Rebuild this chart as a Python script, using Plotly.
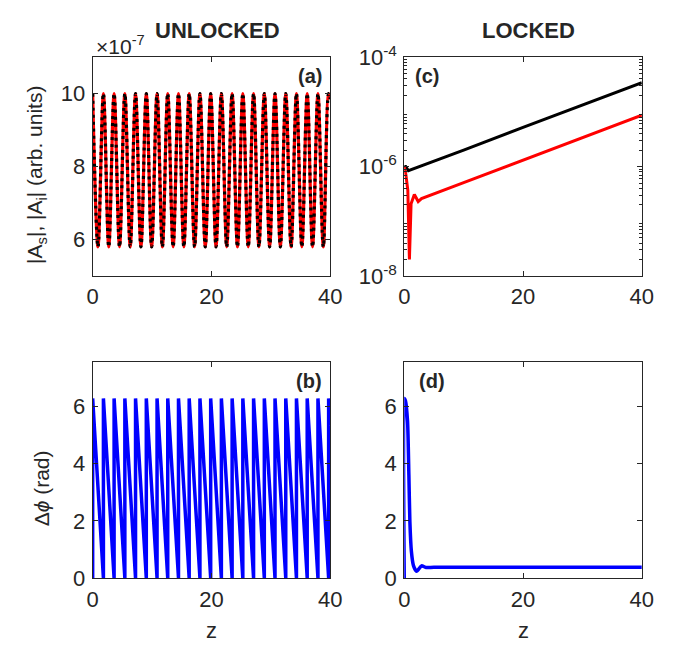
import plotly.graph_objects as go

# ---------------- data ----------------
# (a) unlocked amplitudes |As| = |Ai| : peak / trough positions
peak_z = [0.0, 1.81, 3.61, 5.42, 7.22, 9.03, 10.84, 12.64, 14.45, 16.25, 18.06,
          19.87, 21.67, 23.48, 25.28, 27.09, 28.90, 30.70, 32.51, 34.31, 36.12,
          37.93, 39.73]
trough_z = [0.90, 2.71, 4.52, 6.32, 8.13, 9.93, 11.74, 13.55, 15.35, 17.16,
            18.96, 20.77, 22.57, 24.38, 26.19, 27.99, 29.80, 31.60, 33.41,
            35.22, 37.02, 38.83]
amp_peak = 1.0e-6
amp_trough = 5.8e-7
amp_end_z = 40.0
amp_end = 9.85e-7

# (b) unlocked phase difference: sawtooth jump positions
jump_z = [1.81, 3.61, 5.42, 7.22, 9.03, 10.84, 12.64, 14.45, 16.25, 18.06,
          19.87, 21.67, 23.48, 25.28, 27.09, 28.90, 30.70, 32.51, 34.31, 36.12,
          37.93, 39.73]
phase_top = 6.28
phase_bottom = 0.0
phase_end_z = 40.0
phase_end = 5.35

# (c) locked amplitudes (log scale)
sig_z = [0.0, 0.25, 0.7, 1.2, 2.0, 10.0, 20.0, 30.0, 40.0]
sig_A = [1.0e-6, 1.0e-6, 8.4e-7, 8.8e-7, 9.4e-7, 2.0e-6, 5.2e-6, 1.33e-5, 3.4e-5]
idl_z = [0.0, 0.27, 0.6, 0.87, 1.15, 1.7, 2.35, 2.9, 10.0, 20.0, 30.0, 40.0]
idl_A = [1.0e-6, 7.2e-7, 3.7e-7, 2.0e-8, 2.1e-7, 3.1e-7, 2.3e-7, 2.6e-7,
         5.1e-7, 1.32e-6, 3.4e-6, 8.7e-6]

# (d) locked phase difference
lphi_z = [0.0, 0.02, 0.2, 0.55, 0.78, 0.95, 1.2, 1.55, 2.08, 2.9, 3.7, 5.0, 40.0]
lphi = [0.0, 6.28, 6.2, 5.5, 3.6, 1.96, 0.94, 0.44, 0.24, 0.43, 0.37, 0.38, 0.38]

x_ticks = [0, 20, 40]

# ---------------- build series ----------------
a_z, a_v = [], []
for i, pz in enumerate(peak_z):
    a_z.append(pz); a_v.append(amp_peak)
    if i < len(trough_z):
        a_z.append(trough_z[i]); a_v.append(amp_trough)
a_z.append(amp_end_z); a_v.append(amp_end)

b_z, b_v = [0.0, 0.0], [phase_bottom, phase_top]
for jz in jump_z:
    b_z += [jz, jz]; b_v += [phase_bottom, phase_top]
b_z.append(phase_end_z); b_v.append(phase_end)

# ---------------- figure ----------------
W, H = 685, 660
TXT = "#262626"
FONT = "Liberation Sans, Arial, Helvetica, sans-serif"

fig = go.Figure()
fig.add_trace(go.Scatter(x=a_z, y=a_v, mode="lines", line=dict(color="#ff0000", width=3.2, shape="spline"),
                         xaxis="x", yaxis="y", showlegend=False))
fig.add_trace(go.Scatter(x=a_z, y=a_v, mode="lines", line=dict(color="#000000", width=3.2, shape="spline", dash="3px,4px"),
                         xaxis="x", yaxis="y", showlegend=False))
fig.add_trace(go.Scatter(x=sig_z, y=sig_A, mode="lines", line=dict(color="#000000", width=3),
                         xaxis="x2", yaxis="y2", showlegend=False))
fig.add_trace(go.Scatter(x=idl_z, y=idl_A, mode="lines", line=dict(color="#ff0000", width=3),
                         xaxis="x2", yaxis="y2", showlegend=False))
fig.add_trace(go.Scatter(x=b_z, y=b_v, mode="lines", line=dict(color="#0000ff", width=3.5),
                         xaxis="x3", yaxis="y3", showlegend=False))
fig.add_trace(go.Scatter(x=lphi_z, y=lphi, mode="lines", line=dict(color="#0000ff", width=3.5, shape="spline", smoothing=0.6),
                         xaxis="x4", yaxis="y4", showlegend=False))

def px(x): return x / W
def py(y): return 1 - y / H

xl, xr = (89, 333), (409, 653)
yt, yb = (43, 272), (362, 588)

common = dict(showline=True, linecolor=TXT, linewidth=1, mirror="ticks", ticks="inside",
              ticklen=5, tickcolor=TXT, showgrid=False, zeroline=False,
              tickfont=dict(family=FONT, size=22, color=TXT))

def xax(dom, anchor):
    return dict(domain=[px(dom[0]), px(dom[1])], range=[0, 40], tickvals=x_ticks,
                anchor=anchor, ticklabelstandoff=1, **common)

fig.update_layout(
    width=W, height=H, margin=dict(l=0, r=0, t=0, b=0),
    paper_bgcolor="white", plot_bgcolor="white",
    xaxis=xax(xl, "y"),
    yaxis=dict(domain=[py(yt[1]), py(yt[0])], range=[5e-7, 1.1e-6],
               tickvals=[6e-7, 8e-7, 1e-6], ticktext=["6", "8", "10"], anchor="x",
               ticklabelstandoff=2, **common),
    xaxis2=xax(xr, "y2"),
    yaxis2=dict(domain=[py(yt[1]), py(yt[0])], type="log", range=[-8, -4],
                tickvals=[1e-8, 1e-6, 1e-4],
                ticktext=["10<sup>-8</sup>", "10<sup>-6</sup>", "10<sup>-4</sup>"],
                minor=dict(tickvals=[m * 10 ** e for e in (-8, -7, -6, -5) for m in range(2, 10)],
                           ticks="inside", ticklen=2.5, tickcolor=TXT),
                anchor="x2", ticklabelstandoff=2, **common),
    xaxis3=xax(xl, "y3"),
    yaxis3=dict(domain=[py(yb[1]), py(yb[0])], range=[0, 7.55], tickvals=[0, 2, 4, 6],
                anchor="x3", ticklabelstandoff=2, **common),
    xaxis4=xax(xr, "y4"),
    yaxis4=dict(domain=[py(yb[1]), py(yb[0])], range=[0, 7.55], tickvals=[0, 2, 4, 6],
                anchor="x4", ticklabelstandoff=2, **common),
)

ann = []
def A(text, x, y, size=19, bold=False, xanchor="center", yanchor="middle", angle=0):
    t = f"<b>{text}</b>" if bold else text
    ann.append(dict(text=t, x=px(x), y=py(y), xref="paper", yref="paper", showarrow=False,
                    xanchor=xanchor, yanchor=yanchor, textangle=angle,
                    font=dict(family=FONT, size=size, color=TXT)))

A("UNLOCKED", 217, 15, size=22, bold=True)
A("LOCKED", 537, 15, size=22, bold=True)
A("×10<sup>-7</sup>", 90, 30, size=21, xanchor="left")
A("(a)", 327, 63, size=20, bold=True, xanchor="right")
A("(b)", 327, 382, size=20, bold=True, xanchor="right")
A("(c)", 418, 63, size=20, bold=True, xanchor="left")
A("(d)", 422, 382, size=20, bold=True, xanchor="left")
A("|A<sub>s</sub>|, |A<sub>i</sub>| (arb. units)", 31, 166, size=21, angle=-90)
A("Δ<i>ϕ</i> (rad)", 36, 494, size=21, angle=-90)
A("z", 211, 643, size=22)
A("z", 531, 643, size=22)
fig.update_layout(annotations=ann)

fig.write_html("out.html")
